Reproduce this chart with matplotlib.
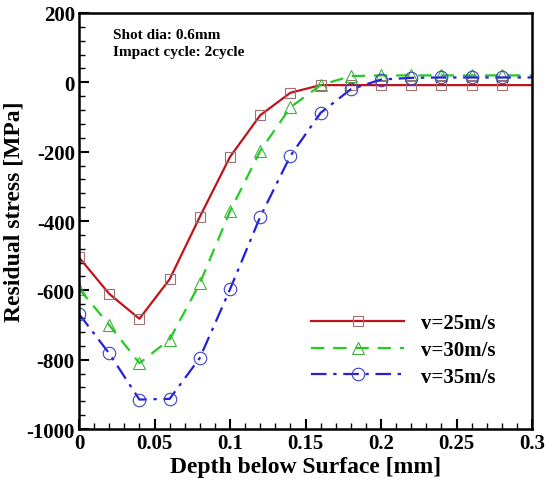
import matplotlib
matplotlib.use("Agg")
import matplotlib.pyplot as plt
from matplotlib.ticker import MultipleLocator

plt.rcParams['font.family'] = ['Liberation Serif', 'DejaVu Serif']
plt.rcParams['font.weight'] = 'bold'
plt.rcParams['axes.unicode_minus'] = False

# depth below surface [mm]
depth = [0.0, 0.02, 0.04, 0.06, 0.08, 0.10, 0.12, 0.14, 0.16, 0.18,
         0.20, 0.22, 0.24, 0.26, 0.28, 0.30]

# residual stress [MPa] for each impact velocity
stress_25 = [-505, -610, -682, -568, -388, -215, -95, -30, -8, -8,
             -8, -8, -8, -8, -8, -8]
stress_30 = [-595, -700, -810, -742, -580, -372, -198, -72, -8, 18,
             20, 20, 20, 20, 20, 20]
stress_35 = [-668, -782, -915, -913, -795, -597, -388, -212, -88, -20,
             8, 13, 14, 14, 14, 14]

labels = ['v=25m/s', 'v=30m/s', 'v=35m/s']

fig = plt.figure(figsize=(5.46, 4.81), dpi=100)
ax = fig.add_axes([0.1447, 0.106, 0.8297, 0.8649])

# lines with markers every 0.02 mm (last point has no marker)
ax.plot(depth, stress_25, color='#c0141c', lw=1.6, ls='-',
        marker='s', ms=7, mfc='none', mec='#a07070', mew=0.8,
        markevery=list(range(15)), label=labels[0])
ax.plot(depth, stress_30, color='#22cc22', lw=1.6, ls=(0, (6, 4)),
        marker='^', ms=8, mfc='none', mec='#40b040', mew=0.8,
        markevery=list(range(15)), label=labels[1])
ax.plot(depth, stress_35, color='#2020dd', lw=1.6, ls=(0, (7, 3, 1.5, 3)),
        marker='o', ms=9, mfc='none', mec='#4040c0', mew=0.8,
        markevery=list(range(15)), label=labels[2])

ax.set_xlim(0, 0.3)
ax.set_ylim(-1000, 200)
ax.xaxis.set_major_locator(MultipleLocator(0.05))
ax.xaxis.set_minor_locator(MultipleLocator(0.01))
ax.yaxis.set_major_locator(MultipleLocator(200))
ax.yaxis.set_minor_locator(MultipleLocator(40))
ax.set_xticks([0, 0.05, 0.1, 0.15, 0.2, 0.25, 0.3])
ax.set_xticklabels(['0', '0.05', '0.1', '0.15', '0.2', '0.25', '0.3'])

ax.tick_params(which='both', direction='in', top=False, right=False)
ax.tick_params(which='major', length=7, width=1.5, labelsize=15, pad=3)
ax.tick_params(which='minor', length=4, width=1.0)
for lab in ax.get_xticklabels() + ax.get_yticklabels():
    lab.set_fontweight('bold')
for sp in ax.spines.values():
    sp.set_linewidth(1.8)

ax.set_xlabel('Depth below Surface [mm]', fontsize=17, fontweight='bold')
ax.set_ylabel('Residual stress [MPa]', fontsize=17, fontweight='bold')
ax.xaxis.set_label_coords(0.5, -0.064)
ax.yaxis.set_label_coords(-0.12, 0.525)

ax.text(0.075, 0.965, 'Shot dia: 0.6mm\nImpact cycle: 2cycle', transform=ax.transAxes,
        fontsize=11, fontweight='bold', va='top', ha='left', linespacing=1.45)

leg = ax.legend(loc='center left', bbox_to_anchor=(0.47, 0.19), frameon=False,
                handlelength=4.5, handletextpad=0.8, labelspacing=0.32,
                prop={'weight': 'bold', 'size': 15})

fig.savefig('out.png', dpi=100)
